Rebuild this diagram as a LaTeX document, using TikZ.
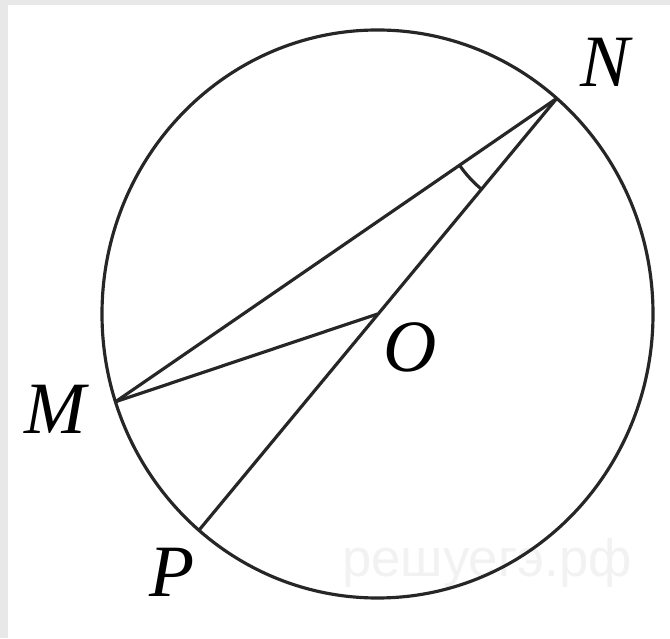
\documentclass[tikz,border=0pt]{standalone}
\usepackage{fontspec}
\setmainfont{Liberation Serif}
\newfontfamily\wmfont{Liberation Sans}
\usetikzlibrary{calc}

\begin{document}
\begin{tikzpicture}[
        every node/.style={
            font=\fontsize{42pt}{48pt}\selectfont\itshape
        },
        figline/.style={
            line width=1.8pt,
            draw=black!85
        },
        ptlabel/.style={
            inner sep=0pt
        }
    ]

    % page and frame strip
    \useasboundingbox (0,0) rectangle (13.4,12.76);
    \fill[white] (0,0) rectangle (13.4,12.76);
    \fill[gray!18] (0,0) rectangle (0.16,12.76);
    \fill[gray!18] (0,12.66) rectangle (13.4,12.76);

    % watermark
    \node[font=\wmfont\fontsize{30pt}{34pt}\selectfont, text=gray!10] (wm) at (9.74,1.5) {решуегэ.рф};

    \coordinate (O) at (7.55,6.48);
    \coordinate (N) at ($(O)+(49.4:5.51 and 5.68)$);
    \coordinate (M) at ($(O)+(198:5.51 and 5.68)$);
    \coordinate (P) at ($(O)+(229.6:5.51 and 5.68)$);

    \draw[figline] (O) ellipse [x radius=5.51, y radius=5.68];

    \draw[figline] (M) -- (N);
    \draw[figline] (M) -- (O);
    \draw[figline] (N) -- (P);

    % angle mark at N
    \draw[figline] ($(N)+(214.6:2.36)$) arc[start angle=214.6, end angle=230.7, radius=2.36];

    \node[ptlabel] (labN) at (12.1,11.52) {N};
    \node[ptlabel] (labO) at (8.2,5.82) {O};
    \node[ptlabel] (labM) at (1.1,4.58) {M};
    \node[ptlabel] (labP) at (3.44,1.32) {P};

\end{tikzpicture}
\end{document}
